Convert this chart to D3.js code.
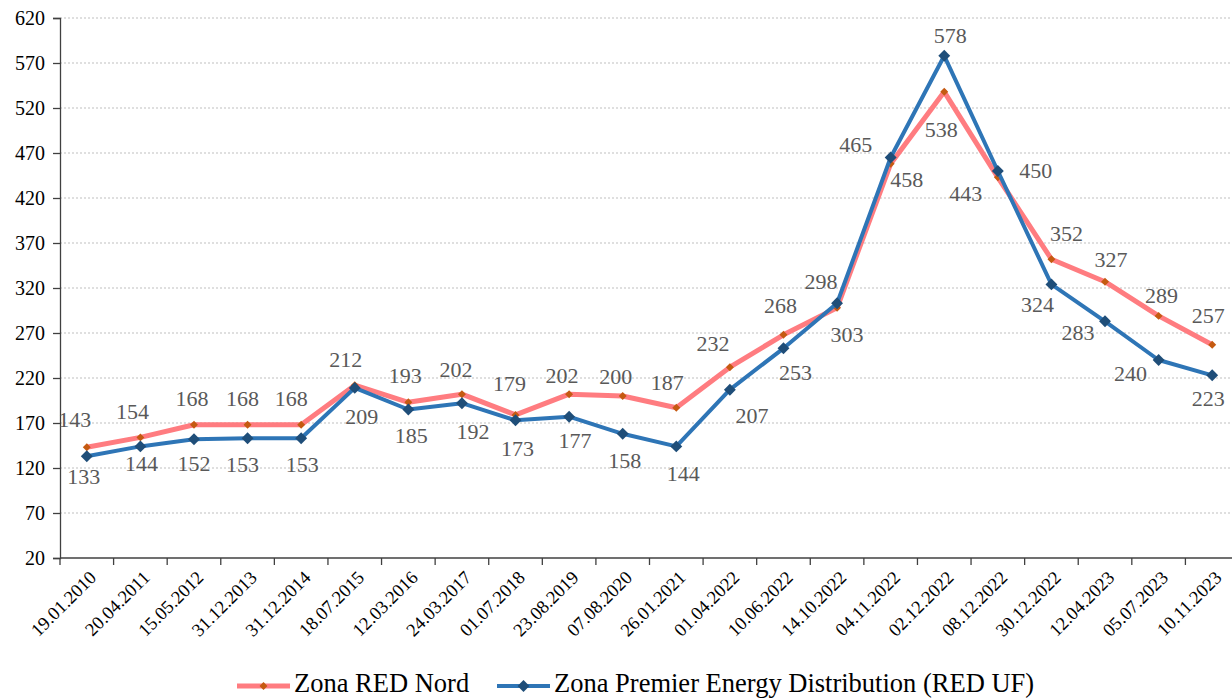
<!DOCTYPE html>
<html><head><meta charset="utf-8">
<script src="https://cdn.jsdelivr.net/npm/d3@7"></script>
<style>
html,body{margin:0;padding:0;background:#fff;}
svg{display:block;}
text{font-family:"Liberation Serif","Times New Roman",serif;}
</style></head>
<body>
<svg id="chart" width="1232" height="698"></svg>
<script>
(function(){
const categories = ["19.01.2010","20.04.2011","15.05.2012","31.12.2013","31.12.2014","18.07.2015","12.03.2016","24.03.2017","01.07.2018","23.08.2019","07.08.2020","26.01.2021","01.04.2022","10.06.2022","14.10.2022","04.11.2022","02.12.2022","08.12.2022","30.12.2022","12.04.2023","05.07.2023","10.11.2023"];
const redNord = [143,154,168,168,168,212,193,202,179,202,200,187,232,268,298,458,538,443,352,327,289,257];
const redUF = [133,144,152,153,153,209,185,192,173,177,158,144,207,253,303,465,578,450,324,283,240,223];
const yTicks = [20,70,120,170,220,270,320,370,420,470,520,570,620];
const seriesNames = ["Zona RED Nord","Zona Premier Energy Distribution (RED UF)"];

// label placement offsets (text centre relative to point)
const redLabelOffsets = [[-12,-28],[-8,-26],[-2,-26],[-5,-26],[-10,-26],[-9,-25],[-3,-27],[-6,-24],[-6,-31],[-7,-18],[-7,-19],[-9,-25],[-17,-23],[-3,-29],[-16,-26],[16,16],[-3,38],[-32,16],[15,-25],[6,-22],[3,-20],[-4,-29]];
const blueLabelOffsets = [[-3,20],[1,17],[0,25],[-5,26],[1,26],[7,29],[3,26],[11,29],[2,28],[6,24],[2,27],[7,27],[22,26],[12,24],[10,31],[-35,-13],[6,-20],[38,0],[-14,20],[-27,11],[-28,14],[-4,23]];

const FONT = "Liberation Serif, Times New Roman, serif";
const svg = d3.select("#chart");
const mLeft = 60, mRight = 1239, mTop = 18, mBottom = 558;

const x = d3.scaleBand().domain(categories).range([mLeft, mRight]).padding(0);
const y = d3.scaleLinear().domain([20, 620]).range([mBottom, mTop]);
const cx = d => x(d) + x.bandwidth()/2;

// gridlines
svg.append("g").selectAll("line").data(yTicks.slice(1)).join("line")
  .attr("x1", mLeft).attr("x2", 1232)
  .attr("y1", d => y(d)).attr("y2", d => y(d))
  .attr("stroke", "#bfbfbf").attr("stroke-width", 1).attr("stroke-dasharray", "2,2");

// y axis
const yAxis = svg.append("g").attr("transform", `translate(${mLeft},0)`)
  .call(d3.axisLeft(y).tickValues(yTicks).tickSize(7).tickPadding(8).tickFormat(d3.format("d")));
yAxis.attr("font-family", FONT);
yAxis.select(".domain").attr("stroke", "#404040").attr("stroke-width", 1.3);
yAxis.selectAll(".tick line").attr("stroke", "#404040").attr("stroke-width", 1.3);
yAxis.selectAll("text").attr("font-size", 20).attr("fill", "#000").attr("font-family", FONT);

// x axis
const xAxisG = svg.append("g").attr("transform", `translate(0,${mBottom})`);
xAxisG.append("line").attr("x1", mLeft).attr("x2", 1232).attr("y1", 0).attr("y2", 0)
  .attr("stroke", "#404040").attr("stroke-width", 1.3);
const boundaries = categories.map(c => x(c));
xAxisG.selectAll("line.tk").data(boundaries).join("line").attr("class","tk")
  .attr("x1", d => d).attr("x2", d => d).attr("y1", 0).attr("y2", 7)
  .attr("stroke", "#404040").attr("stroke-width", 1.3);
xAxisG.selectAll("text").data(categories).join("text")
  .attr("transform", d => `translate(${cx(d)+6},${16}) rotate(-45)`)
  .attr("text-anchor", "end").attr("dy", "0.35em").attr("font-family", FONT)
  .attr("font-size", 18.5).attr("fill", "#000").text(d => d);

// lines
const line = d3.line().x((d,i) => cx(categories[i])).y(d => y(d));
svg.append("path").datum(redNord).attr("d", line).attr("fill", "none")
  .attr("stroke", "#ff7c80").attr("stroke-width", 5).attr("stroke-linejoin", "round");
const diamond = s => d3.symbol().type(d3.symbolDiamond2).size(s);
svg.append("g").selectAll("path").data(redNord).join("path")
  .attr("d", diamond(40)())
  .attr("transform", (d,i) => `translate(${cx(categories[i])},${y(d)})`)
  .attr("fill", "#c55a11");

svg.append("path").datum(redUF).attr("d", line).attr("fill", "none")
  .attr("stroke", "#2e75b6").attr("stroke-width", 4).attr("stroke-linejoin", "round");
svg.append("g").selectAll("path").data(redUF).join("path")
  .attr("d", diamond(90)())
  .attr("transform", (d,i) => `translate(${cx(categories[i])},${y(d)})`)
  .attr("fill", "#1f4e79");

// data labels
function labels(data, offs) {
  svg.append("g").selectAll("text").data(data).join("text")
    .attr("x", (d,i) => cx(categories[i]) + offs[i][0])
    .attr("y", (d,i) => y(d) + offs[i][1])
    .attr("dy", "0.33em").attr("text-anchor", "middle").attr("font-family", FONT)
    .attr("font-size", 22).attr("fill", "#595959").text(d => d);
}
labels(redNord, redLabelOffsets);
labels(redUF, blueLabelOffsets);

// legend
const legend = svg.append("g");
const legItems = [
  {name: seriesNames[0], x: 237, color: "#ff7c80", mk: "#c55a11", w: 5, ms: 40},
  {name: seriesNames[1], x: 497, color: "#2e75b6", mk: "#1f4e79", w: 4, ms: 90}
];
legItems.forEach(it => {
  legend.append("line").attr("x1", it.x).attr("x2", it.x + 53).attr("y1", 686).attr("y2", 686)
    .attr("stroke", it.color).attr("stroke-width", it.w);
  legend.append("path").attr("d", diamond(it.ms)()).attr("transform", `translate(${it.x+26.5},686)`).attr("fill", it.mk);
  legend.append("text").attr("x", it.x + 57).attr("y", 692).attr("font-size", 26.5)
    .attr("font-family", FONT).attr("fill", "#000").text(it.name);
});
})();
</script>
</body></html>
